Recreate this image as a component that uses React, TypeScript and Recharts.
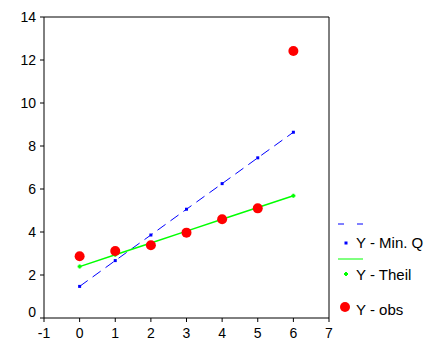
import React from 'react';
import {
  ComposedChart,
  Line,
  XAxis,
  YAxis,
  ReferenceLine,
} from 'recharts';

const xValues = [0, 1, 2, 3, 4, 5, 6];
const minQ = [1.47, 2.67, 3.86, 5.06, 6.25, 7.45, 8.64];
const theil = [2.39, 2.94, 3.49, 4.04, 4.59, 5.14, 5.69];
const obs = [2.87, 3.12, 3.38, 3.97, 4.59, 5.1, 12.42];
const xTicks = [-1, 0, 1, 2, 3, 4, 5, 6, 7];
const yTicks = [0, 2, 4, 6, 8, 10, 12, 14];

const data = xValues.map((x, i) => ({
  x,
  minq: minQ[i],
  theil: theil[i],
  obs: obs[i],
}));

const FONT = 'Arial, "Liberation Sans", sans-serif';

const YTick = (props: any) => {
  const { x, y, payload } = props;
  const dy = payload.value === 0 ? -6 : 0;
  return (
    <text
      x={x}
      y={y + dy}
      dy="0.36em"
      textAnchor="end"
      fill="#000"
      fontSize={14}
      fontFamily={FONT}
    >
      {payload.value}
    </text>
  );
};

const BlueDot = (props: any) => {
  const { cx, cy } = props;
  if (cx == null || cy == null) return null;
  return <rect x={cx - 1.5} y={cy - 1.5} width={3} height={3} fill="#0000ff" />;
};

const GreenDot = (props: any) => {
  const { cx, cy } = props;
  if (cx == null || cy == null) return null;
  return (
    <path
      d={`M${cx - 2},${cy}L${cx + 2},${cy}M${cx},${cy - 2}L${cx},${cy + 2}`}
      stroke="#00ff00"
      strokeWidth={2}
    />
  );
};

const RedDot = (props: any) => {
  const { cx, cy } = props;
  if (cx == null || cy == null) return null;
  return <circle cx={cx} cy={cy} r={5} fill="#ff0000" />;
};

const LegendBox = () => {
  const textStyle: React.CSSProperties = {
    position: 'absolute',
    left: 20,
    fontSize: 15,
    fontFamily: FONT,
    color: '#000',
    whiteSpace: 'nowrap',
    lineHeight: '16px',
  };
  return (
    <div style={{ position: 'absolute', left: 336, top: 216, width: 110, height: 110 }}>
      <svg width={110} height={110} style={{ position: 'absolute', left: 0, top: 0 }}>
        <line x1={2} y1={8} x2={27} y2={8} stroke="#0000ff" strokeDasharray="6 13" />
        <rect x={8.5} y={25.5} width={3} height={3} fill="#0000ff" />
        <line x1={2} y1={43} x2={27} y2={43} stroke="#00ff00" />
        <path d="M8,58L12,58M10,56L10,60" stroke="#00ff00" strokeWidth={2} />
        <circle cx={9} cy={91} r={5} fill="#ff0000" />
      </svg>
      <div style={{ ...textStyle, top: 19 }}>Y - Min. Q</div>
      <div style={{ ...textStyle, top: 51 }}>Y - Theil</div>
      <div style={{ ...textStyle, top: 86 }}>Y - obs</div>
    </div>
  );
};

export default function App() {
  return (
    <div style={{ position: 'absolute', left: 0, top: 0, width: 445, height: 356, background: '#fff' }}>
      <ComposedChart
        width={445}
        height={356}
        data={data}
        margin={{ top: 17, right: 116, bottom: 8, left: 0 }}
      >
        <XAxis
          dataKey="x"
          type="number"
          domain={[-1, 7]}
          ticks={xTicks}
          interval={0}
          tickSize={4}
          tickMargin={6}
          height={30}
          stroke="#000"
          tick={{ fill: '#000', fontSize: 14, fontFamily: FONT }}
        />
        <YAxis
          type="number"
          domain={[0, 14]}
          ticks={yTicks}
          interval={0}
          width={44}
          tickSize={4}
          tickMargin={4}
          stroke="#000"
          tick={<YTick />}
        />
        <ReferenceLine y={14} stroke="#000" ifOverflow="extendDomain" />
        <ReferenceLine x={7} stroke="#000" ifOverflow="extendDomain" />
        <Line
          dataKey="minq"
          stroke="#0000ff"
          strokeWidth={1}
          strokeDasharray="10 6"
          dot={<BlueDot />}
          activeDot={false}
          isAnimationActive={false}
        />
        <Line
          dataKey="theil"
          stroke="#00ff00"
          strokeWidth={1.5}
          dot={<GreenDot />}
          activeDot={false}
          isAnimationActive={false}
        />
        <Line
          dataKey="obs"
          stroke="none"
          dot={<RedDot />}
          activeDot={false}
          isAnimationActive={false}
        />
      </ComposedChart>
      <LegendBox />
    </div>
  );
}
